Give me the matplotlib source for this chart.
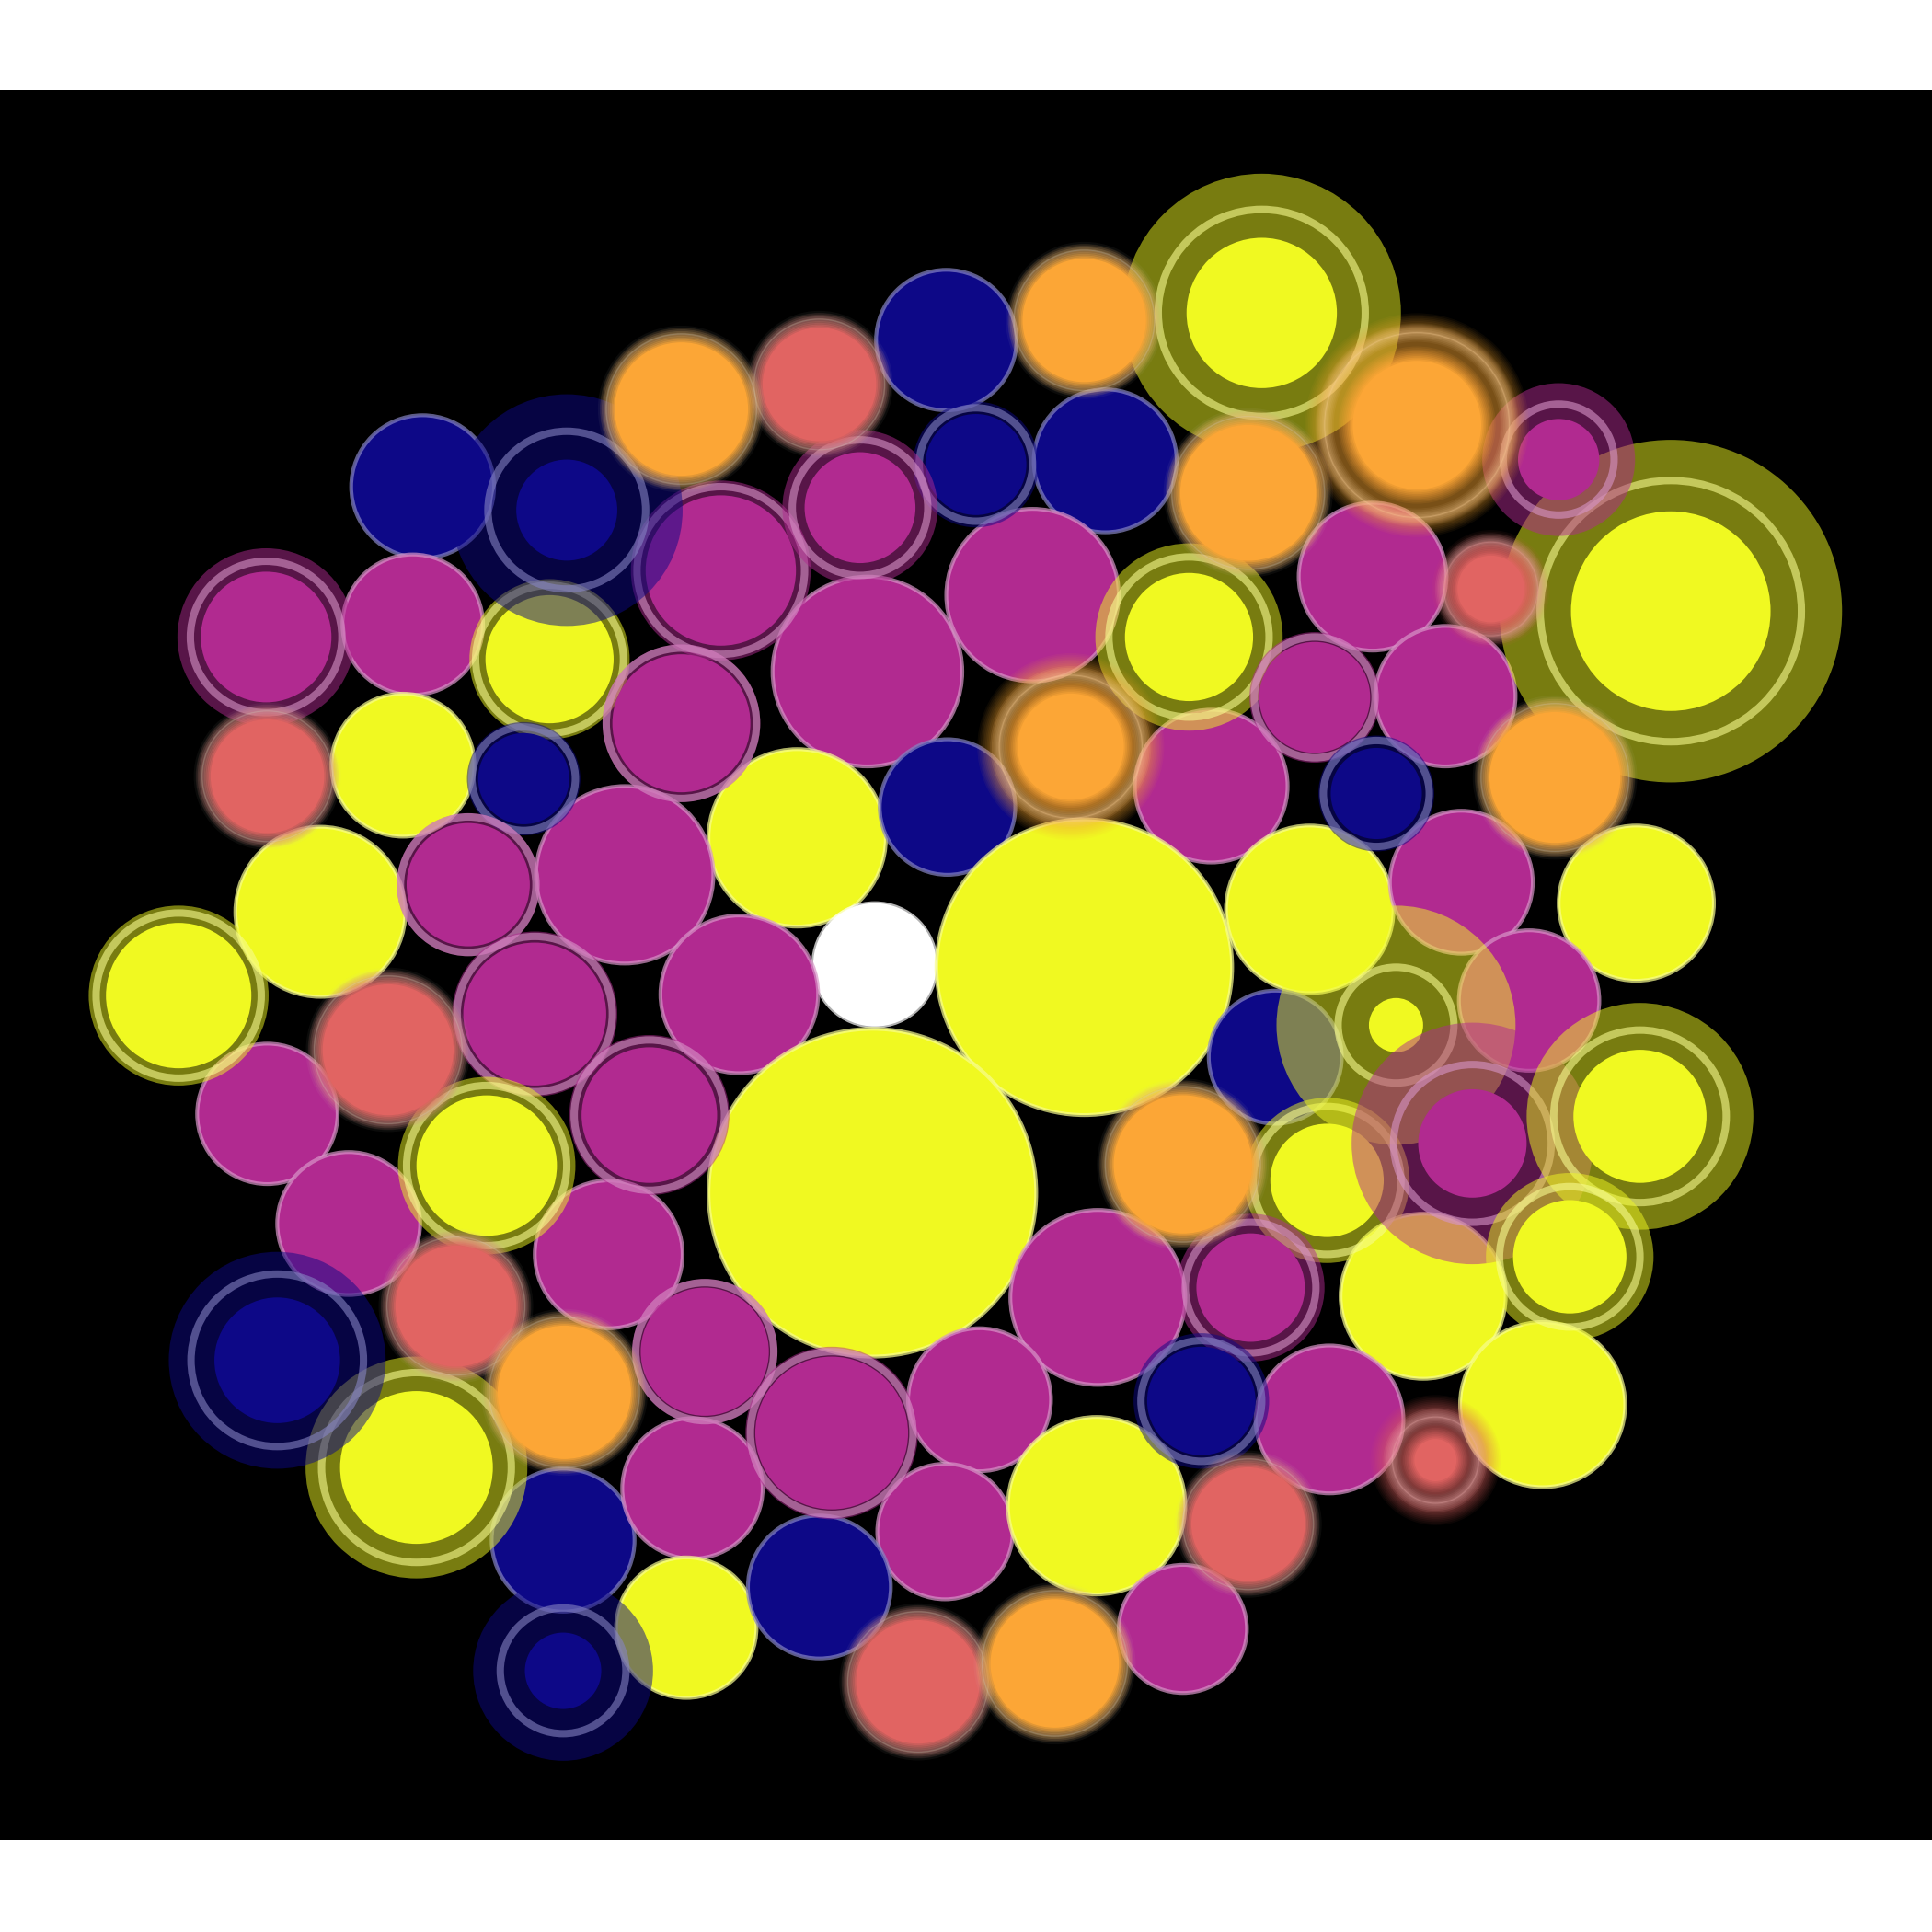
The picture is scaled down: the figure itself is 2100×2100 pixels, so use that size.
import numpy as np
import matplotlib.pyplot as plt
from matplotlib.patches import Circle, Annulus
from matplotlib.colors import to_rgb

# ==========================
# DATA (picture units, y grows downward)
# ==========================
colors = {
    "navy": "#0d0887",
    "magenta": "#b12a90",
    "red": "#e16462",
    "orange": "#fca636",
    "yellow": "#f0f921",
    "white": "#ffffff",
}

# plain bubbles
plain_x = [768, 343, 897, 1114, 335, 704, 838, 1173, 327, 647, 769, 983, 507, 260,
           710, 880, 1063, 1186, 1328, 600, 217, 1035, 1241, 708, 283, 494, 1155,
           891, 795, 1079, 1252, 457, 562, 767, 890, 557, 665, 960]
plain_y = [276, 395, 374, 468, 507, 545, 483, 565, 621, 680, 655, 638, 710, 740,
           783, 785, 738, 716, 733, 807, 904, 858, 812, 968, 993, 1018, 1052,
           1053, 1136, 1152, 1140, 1250, 1208, 1243, 1222, 1321, 1288, 1322]
plain_r = [57, 58, 58, 60, 57, 77, 70, 57, 58, 72, 55, 62, 72, 69,
           50, 120, 68, 58, 63, 64, 57, 54, 57, 133, 58, 60, 67,
           71, 58, 60, 67, 58, 57, 55, 72, 57, 58, 52]
plain_grp = ["navy", "navy", "navy", "magenta", "magenta", "magenta", "magenta", "magenta",
             "yellow", "yellow", "navy", "magenta", "magenta", "yellow", "white", "yellow",
             "yellow", "magenta", "yellow", "magenta", "magenta", "navy", "magenta", "yellow",
             "magenta", "magenta", "yellow", "magenta", "magenta", "magenta", "yellow", "navy",
             "magenta", "magenta", "yellow", "yellow", "navy", "magenta"]

# ringed bubbles: core radius, ring radius, halo radius
ring_x = [1024, 1356, 1265, 792, 216, 446, 585, 460, 698, 553, 425, 965, 1067, 1117,
          380, 145, 434, 527, 395, 1077, 1133, 1195, 1331, 1274, 1015, 975, 338, 225,
          572, 675, 457]
ring_y = [254, 496, 373, 377, 517, 535, 463, 414, 412, 587, 632, 517, 566, 644,
          718, 808, 823, 905, 946, 958, 832, 928, 906, 1020, 1045, 1137, 1191, 1104,
          1097, 1163, 1356]
ring_core = [61, 81, 33, 41, 53, 52, 61, 41, 45, 56, 37, 52, 45, 37,
             50, 59, 58, 55, 57, 46, 22, 44, 54, 46, 44, 44, 62, 51,
             52, 62, 31]
ring_mid = [84, 106, 45, 46, 61.5, 60, 68, 64, 55, 61, 42, 65, 49, 43,
            55, 67, 63, 61, 65, 60, 47, 64, 70, 57, 53, 49, 77, 70,
            56, 66, 51]
ring_halo = [113, 139, 62, 51, 72, 65, 73, 94, 63, 64, 46, 76, 53, 47,
             58, 73, 67, 65, 72, 67, 97, 98, 92, 68, 60, 55, 90, 88,
             59, 70, 73]
ring_grp = ["yellow", "yellow", "magenta", "navy", "magenta", "yellow", "magenta", "navy",
            "magenta", "magenta", "navy", "yellow", "magenta", "navy", "magenta", "yellow",
            "magenta", "magenta", "yellow", "yellow", "yellow", "magenta", "yellow", "yellow",
            "magenta", "navy", "yellow", "navy", "magenta", "magenta", "navy"]

# soft (blurred) bubbles, ring/halo 0 = none
soft_x = [880, 665, 553, 1013, 217, 1262, 315, 960, 370, 458, 1013, 745, 856,
          1150, 869, 1210, 1165]
soft_y = [260, 312, 332, 400, 630, 631, 852, 945, 1060, 1130, 1237, 1365, 1350,
          345, 606, 478, 1185]
soft_core = [56, 52, 60, 61, 52, 59, 59, 62, 55, 60, 52, 56, 58,
             58, 49, 33, 23]
soft_mid = [0, 0, 0, 0, 0, 0, 0, 0, 0, 0, 0, 0, 0,
            75, 58, 38, 35]
soft_halo = [0, 0, 0, 0, 0, 0, 0, 0, 0, 0, 0, 0, 0,
             85, 70, 42, 47]
soft_grp = ["orange", "red", "orange", "orange", "red", "orange", "red", "orange", "red",
            "orange", "red", "red", "orange", "orange", "orange", "red", "red"]


def light(c, f=0.5):
    rgb = np.array(to_rgb(c))
    return tuple(rgb + (1 - rgb) * f)


def soft_disk(ax, x, y, r, c, amax, spread=6.5, n=10):
    prev = 0.0
    for k in range(1, n + 1):
        rad = r + spread * (1 - (2 * k - 1) / n)
        target = amax * k / n
        a = (target - prev) / (1 - prev)
        prev = target
        ax.add_patch(Circle((x, y), rad, facecolor=c, alpha=a, lw=0))


def soft_ring(ax, x, y, r, width, c, amax, spread=5, n=8):
    prev = 0.0
    for k in range(1, n + 1):
        hw = max(width / 2 + spread * (1 - (2 * k - 1) / n), 0.4)
        target = amax * k / n
        a = (target - prev) / (1 - prev)
        prev = target
        ax.add_patch(Annulus((x, y), r + hw, 2 * hw, facecolor=c, alpha=a, lw=0))


# ==========================
# FIGURE
# ==========================
fig = plt.figure(figsize=(7, 7), dpi=300)
ax = fig.add_axes([0, 75 / 1568, 1, 1420 / 1568])
ax.set_facecolor("black")
ax.set_xlim(0, 1568)
ax.set_ylim(1493, 73)
ax.set_xticks([])
ax.set_yticks([])
for s in ax.spines.values():
    s.set_visible(False)

RING_W = 6

# plain bubbles with a pale edge
for x, y, r, g in zip(plain_x, plain_y, plain_r, plain_grp):
    c = colors[g]
    ax.add_patch(Circle((x, y), r, facecolor=c,
                        edgecolor=light(c) + (0.7,), lw=1.0))

# halo + pale ring + core
for x, y, r, m, h, g in zip(ring_x, ring_y, ring_core, ring_mid, ring_halo, ring_grp):
    c = colors[g]
    ax.add_patch(Circle((x, y), h, facecolor=c, alpha=0.5, lw=0))
    ax.add_patch(Annulus((x, y), m + RING_W / 2, RING_W,
                         facecolor=light(c), alpha=0.6, lw=0))
    ax.add_patch(Circle((x, y), r, facecolor=c, lw=0))

# blurred bubbles on top
for x, y, r, m, h, g in zip(soft_x, soft_y, soft_core, soft_mid, soft_halo, soft_grp):
    c = colors[g]
    if h > 0:
        soft_disk(ax, x, y, h, c, 0.5)
        soft_ring(ax, x, y, m, RING_W, light(c), 0.6)
        soft_disk(ax, x, y, r, c, 1.0)
    else:
        soft_disk(ax, x, y, r, c, 1.0)
        soft_ring(ax, x, y, r + 1, 3, "#d8d0c0", 0.45, spread=6)

fig.savefig("out.png", dpi=300, facecolor="white")
